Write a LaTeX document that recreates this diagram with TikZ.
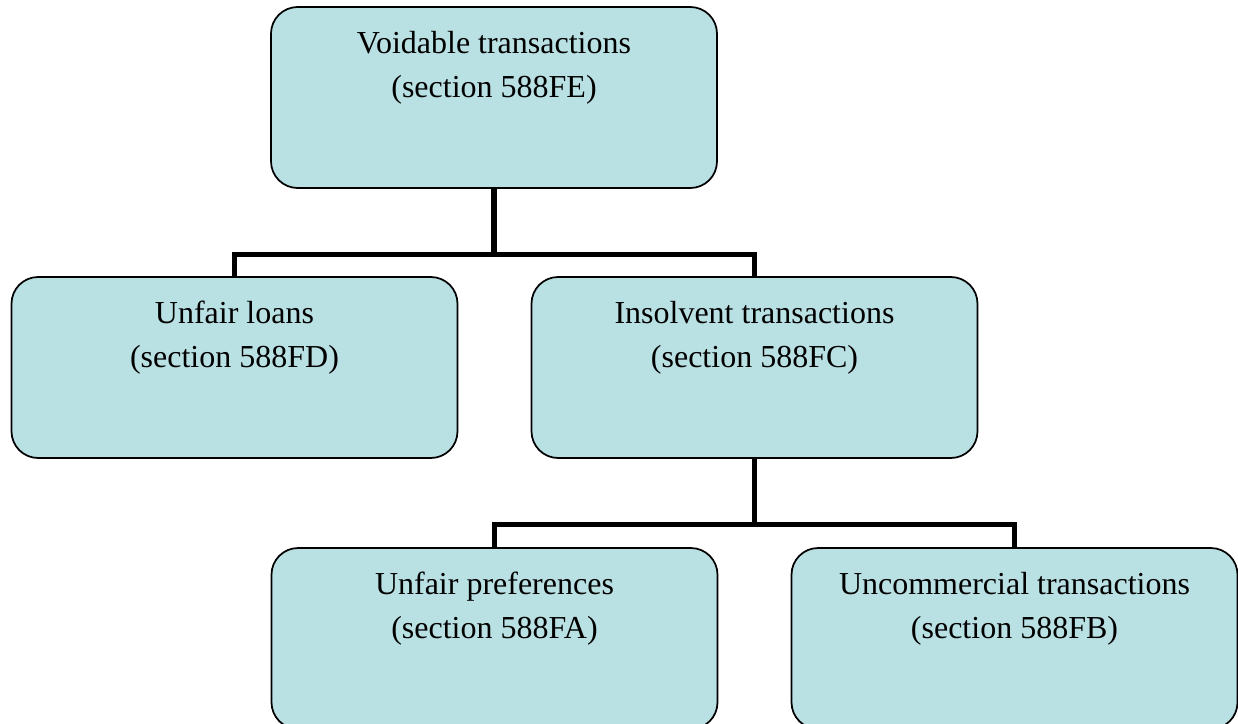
\documentclass[tikz,border=0pt]{standalone}
\usepackage{fontspec}
\setmainfont{Liberation Serif}
\definecolor{boxfill}{RGB}{185,224,227}
% two lines of text, set at the top of a box of fixed size
\newcommand{\boxlabel}[2]{\parbox[c][135.75pt][t]{334.5pt}{\centering\fontsize{24}{33}\selectfont\vspace*{18pt}#1\\#2}}

\begin{document}
\begin{tikzpicture}[x=0.75pt,y=0.75pt,yscale=-1,xscale=1,
        box/.style={draw, line width=1.3pt, fill=boxfill, rounded corners=20pt, inner sep=0pt},
        link/.style={line width=4.2pt}]
        \useasboundingbox (0,0) rectangle (1238,724);

        %Shape: Rounded Rect [voidable]
        \node [box] (voidable) at (494,97.5) {\boxlabel{Voidable transactions}{(section 588FE)}};
        %Shape: Rounded Rect [loans]
        \node [box] (loans) at (234.5,367.5) {\boxlabel{Unfair loans}{(section 588FD)}};
        %Shape: Rounded Rect [insolvent]
        \node [box] (insolvent) at (754.5,367.5) {\boxlabel{Insolvent transactions}{(section 588FC)}};
        %Shape: Rounded Rect [preferences]
        \node [box] (preferences) at (494.5,638.5) {\boxlabel{Unfair preferences}{(section 588FA)}};
        %Shape: Rounded Rect [uncommercial]
        \node [box] (uncommercial) at (1014.5,638.5) {\boxlabel{Uncommercial transactions}{(section 588FB)}};

        %Straight Lines [forks]
        \coordinate (forkA) at (494,254.5);
        \coordinate (forkB) at (754.5,524.5);
        \draw [link] (voidable.south) -- (forkA);
        \draw [link] (loans.north) |- (forkA) -| (insolvent.north);
        \draw [link] (insolvent.south) -- (forkB);
        \draw [link] (preferences.north) |- (forkB) -| (uncommercial.north);
    \end{tikzpicture}
\end{document}
